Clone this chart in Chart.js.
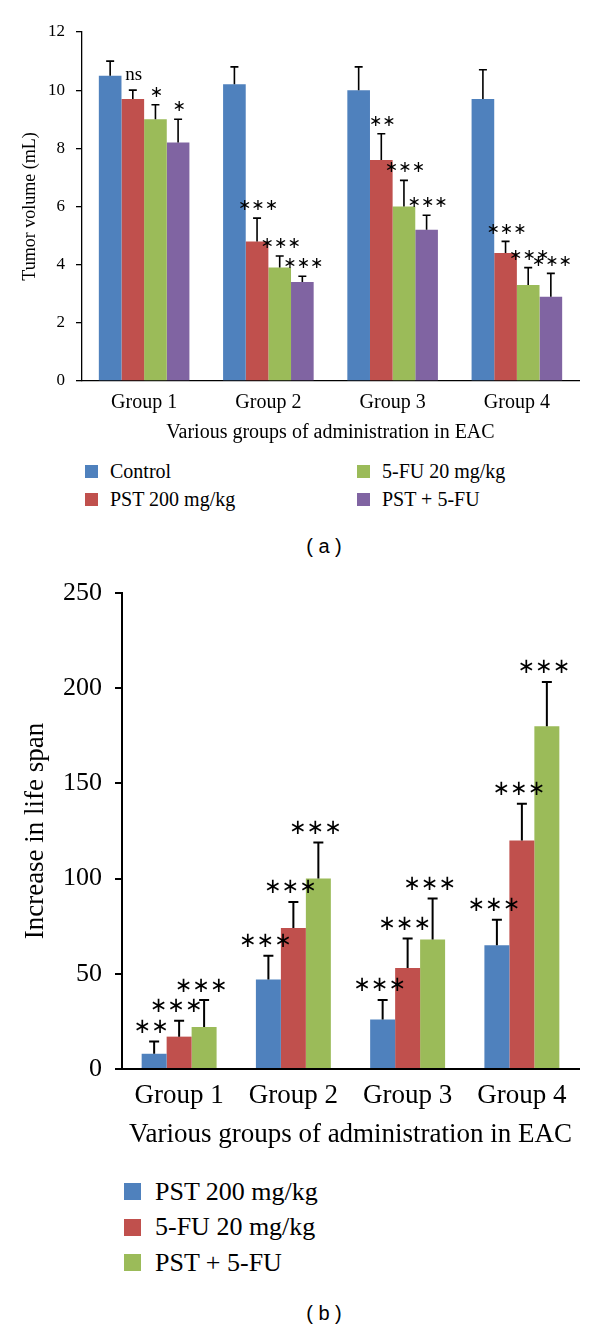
<!DOCTYPE html>
<html>
<head>
<meta charset="utf-8">
<title>Tumor volume / Increase in life span</title>
<script src="https://cdn.jsdelivr.net/npm/chart.js@4.4.1/dist/chart.umd.min.js"></script>
<style>
  html, body { margin: 0; padding: 0; background: #fff; }
  #page {
    position: relative; width: 600px; height: 1329px; overflow: hidden;
    font-family: "Liberation Serif", "Times New Roman", serif; color: #000;
  }
  canvas { position: absolute; left: 0; }
  #chart-a { top: 0; }
  #chart-b { top: 560px; }

  .legend {
    position: absolute; display: grid; grid-auto-flow: column;
    font-family: "Liberation Serif", "Times New Roman", serif;
  }
  .legend .item { display: flex; align-items: center; white-space: nowrap; }
  .legend .swatch { flex: none; }
  #legend-a { left: 85px; top: 457px; grid-template-rows: repeat(2, 28px); grid-template-columns: 272px auto; font-size: 20px; }
  #legend-a .swatch { width: 13px; height: 13px; margin-right: 12px; }
  #legend-b { left: 124px; top: 1174px; grid-template-rows: repeat(3, 35.5px); font-size: 26px; }
  #legend-b .swatch { width: 17px; height: 17px; margin-right: 14px; }

  .caption {
    position: absolute; left: 224px; width: 200px; text-align: center;
    font-family: "Liberation Sans", Arial, sans-serif; font-size: 20px; line-height: 22px;
  }
</style>
</head>
<body>
<div id="page">
  <canvas id="chart-a" width="600" height="445"></canvas>
  <div id="legend-a" class="legend"></div>
  <div class="caption" style="top:535px">( a )</div>

  <canvas id="chart-b" width="600" height="591"></canvas>
  <div id="legend-b" class="legend"></div>
  <div class="caption" style="top:1302px">( b )</div>
</div>

<script>
'use strict';

// ─── Data ────────────────────────────────────────────────────────────────────

const GROUPS = ['Group 1', 'Group 2', 'Group 3', 'Group 4'];
const X_TITLE = 'Various groups of administration in EAC';

// (a) tumour volume, mL — bar means, upper end of error bar, significance
const VOL_SERIES   = ['Control', 'PST 200 mg/kg', '5-FU 20 mg/kg', 'PST + 5-FU'];
const VOL_CONTROL  = [10.5, 10.2, 10.0, 9.7];
const VOL_PST      = [9.7, 4.8, 7.6, 4.4];
const VOL_5FU      = [9.0, 3.9, 6.0, 3.3];
const VOL_COMBO    = [8.2, 3.4, 5.2, 2.9];
const VOL_CONTROL_HI = [11.0, 10.8, 10.8, 10.7];
const VOL_PST_HI     = [10.0, 5.6, 8.5, 4.8];
const VOL_5FU_HI     = [9.5, 4.3, 6.9, 3.9];
const VOL_COMBO_HI   = [9.0, 3.6, 5.7, 3.7];
const VOL_SIG_CONTROL = ['', '', '', ''];
const VOL_SIG_PST     = ['ns', '***', '**', '***'];
const VOL_SIG_5FU     = ['*', '***', '***', '***'];
const VOL_SIG_COMBO   = ['*', '***', '***', '***'];
const VOL_TICKS = [0, 2, 4, 6, 8, 10, 12];

// (b) increase in life span
const ILS_SERIES  = ['PST 200 mg/kg', '5-FU 20 mg/kg', 'PST + 5-FU'];
const ILS_PST     = [8, 47, 26, 65];
const ILS_5FU     = [17, 74, 53, 120];
const ILS_COMBO   = [22, 100, 68, 180];
const ILS_PST_HI   = [14.5, 59.5, 36.3, 78.4];
const ILS_5FU_HI   = [25.3, 87.7, 68.6, 139.3];
const ILS_COMBO_HI = [36.2, 119, 89.5, 203.3];
const ILS_SIG_PST   = ['**', '***', '***', '***'];
const ILS_SIG_5FU   = ['***', '***', '***', '***'];
const ILS_SIG_COMBO = ['***', '***', '***', '***'];
const ILS_TICKS = [0, 50, 100, 150, 200, 250];

// Excel 2007 palette
const BLUE   = '#4F81BD';
const RED    = '#C0504D';
const GREEN  = '#9BBB59';
const PURPLE = '#8064A2';

const SERIF = '"Liberation Serif", "Times New Roman", serif';

// ─── Error bars + significance marks ─────────────────────────────────────────

const errorBarPlugin = {
  id: 'errorBars',
  afterDatasetsDraw(chart, args, opts) {
    const { ctx } = chart;
    const y = chart.scales.y;
    const bars = [];

    chart.data.datasets.forEach((ds, di) => {
      chart.getDatasetMeta(di).data.forEach((bar, i) => {
        bars.push({ bar, top: y.getPixelForValue(ds.hi[i]), sig: ds.sig[i] });
      });
    });

    ctx.save();
    ctx.strokeStyle = '#000';
    ctx.lineWidth = opts.lineWidth;
    ctx.lineCap = 'butt';
    bars.forEach(({ bar, top }) => {
      const half = opts.capWidth / 2;
      ctx.beginPath();
      ctx.moveTo(bar.x, bar.y);
      ctx.lineTo(bar.x, top);
      ctx.moveTo(bar.x - half, top);
      ctx.lineTo(bar.x + half, top);
      ctx.stroke();
    });

    // marks go on top of every bar, they overlap neighbours in places
    ctx.fillStyle = '#000';
    ctx.textAlign = 'center';
    ctx.textBaseline = 'middle';
    bars.forEach(({ bar, top, sig }) => {
      if (!sig) return;
      const x = bar.x + opts.dx;
      if (sig === 'ns') {
        ctx.font = `${opts.nsSize}px ${SERIF}`;
        ctx.fillText(sig, x, top - opts.gap - 3);
      } else {
        ctx.font = `${opts.starSize}px "DejaVu Sans"`;
        ctx.fillText(sig.replace(/\*/g, '\u2217'), x, top - opts.gap);
      }
    });
    ctx.restore();
  },
};

// ─── Chart builder ───────────────────────────────────────────────────────────

function buildChart(id, s) {
  const ctx = document.getElementById(id).getContext('2d');
  return new Chart(ctx, {
    type: 'bar',
    data: {
      labels: GROUPS,
      datasets: s.series.map(d => ({
        label: d.label,
        data: d.data,
        hi: d.hi,
        sig: d.sig,
        backgroundColor: d.color,
        borderWidth: 0,
        categoryPercentage: s.catPct,
        barPercentage: 1.0,
      })),
    },
    options: {
      responsive: false,
      animation: false,
      layout: { padding: { top: s.plotTop, right: 21, left: 0, bottom: 0 } },
      plugins: {
        legend: { display: false },
        tooltip: { enabled: false },
        errorBars: s.err,
      },
      scales: {
        x: {
          grid: { display: false },
          border: { display: true, color: '#000', width: s.axisWidth },
          ticks: {
            color: '#000',
            font: { family: SERIF, size: s.groupSize },
            padding: s.groupPad,
            maxRotation: 0,
            autoSkip: false,
          },
          title: {
            display: true,
            text: X_TITLE,
            color: '#000',
            font: { family: SERIF, size: s.xTitleSize },
            padding: { top: 0, bottom: 0 },
          },
          afterFit: scale => { scale.height = s.xHeight; },
        },
        y: {
          min: 0,
          max: s.ticks[s.ticks.length - 1],
          afterBuildTicks: scale => { scale.ticks = s.ticks.map(v => ({ value: v })); },
          grid: {
            display: true,
            drawOnChartArea: false,
            drawTicks: true,
            tickLength: s.tickLen,
            color: '#000',
            lineWidth: s.axisWidth,
          },
          border: { display: true, color: '#000', width: s.axisWidth },
          ticks: {
            color: '#000',
            font: { family: SERIF, size: s.tickSize },
            padding: s.tickPad,
          },
          title: {
            display: true,
            text: s.yTitle,
            color: '#000',
            font: { family: SERIF, size: s.yTitleSize },
            padding: { top: s.yTitlePad, bottom: 0 },
          },
          afterFit: scale => { scale.width = s.yWidth; },
        },
      },
    },
    plugins: [errorBarPlugin],
  });
}

// ─── Legends ─────────────────────────────────────────────────────────────────

function buildLegend(id, labels, colors) {
  const box = document.getElementById(id);
  labels.forEach((label, i) => {
    const item = document.createElement('div');
    item.className = 'item';
    const sw = document.createElement('span');
    sw.className = 'swatch';
    sw.style.background = colors[i];
    const tx = document.createElement('span');
    tx.textContent = label;
    item.appendChild(sw);
    item.appendChild(tx);
    box.appendChild(item);
  });
}

// ─── Init ────────────────────────────────────────────────────────────────────

buildChart('chart-a', {
  series: [
    { label: VOL_SERIES[0], data: VOL_CONTROL, hi: VOL_CONTROL_HI, sig: VOL_SIG_CONTROL, color: BLUE },
    { label: VOL_SERIES[1], data: VOL_PST,     hi: VOL_PST_HI,     sig: VOL_SIG_PST,     color: RED },
    { label: VOL_SERIES[2], data: VOL_5FU,     hi: VOL_5FU_HI,     sig: VOL_SIG_5FU,     color: GREEN },
    { label: VOL_SERIES[3], data: VOL_COMBO,   hi: VOL_COMBO_HI,   sig: VOL_SIG_COMBO,   color: PURPLE },
  ],
  ticks: VOL_TICKS,
  yTitle: 'Tumor volume (mL)',
  catPct: 0.729,
  plotTop: 32,
  xHeight: 64,
  yWidth: 82,
  axisWidth: 1.3,
  tickLen: 6,
  tickSize: 17,
  tickPad: 11,
  yTitleSize: 18,
  yTitlePad: 19,
  groupSize: 20,
  groupPad: 2,
  xTitleSize: 20,
  err: { lineWidth: 1.6, capWidth: 8, starSize: 16, nsSize: 19, gap: 12, dx: 1 },
});

buildChart('chart-b', {
  series: [
    { label: ILS_SERIES[0], data: ILS_PST,   hi: ILS_PST_HI,   sig: ILS_SIG_PST,   color: BLUE },
    { label: ILS_SERIES[1], data: ILS_5FU,   hi: ILS_5FU_HI,   sig: ILS_SIG_5FU,   color: RED },
    { label: ILS_SERIES[2], data: ILS_COMBO, hi: ILS_COMBO_HI, sig: ILS_SIG_COMBO, color: GREEN },
  ],
  ticks: ILS_TICKS,
  yTitle: 'Increase in life span',
  catPct: 0.656,
  plotTop: 33,
  xHeight: 82,
  yWidth: 122,
  axisWidth: 2,
  tickLen: 7,
  tickSize: 26,
  tickPad: 13,
  yTitleSize: 27,
  yTitlePad: 20,
  groupSize: 27,
  groupPad: 3,
  xTitleSize: 27,
  err: { lineWidth: 2, capWidth: 10, starSize: 21, nsSize: 24, gap: 14, dx: -3 },
});

buildLegend('legend-a', VOL_SERIES, [BLUE, RED, GREEN, PURPLE]);
buildLegend('legend-b', ILS_SERIES, [BLUE, RED, GREEN]);
</script>
</body>
</html>
